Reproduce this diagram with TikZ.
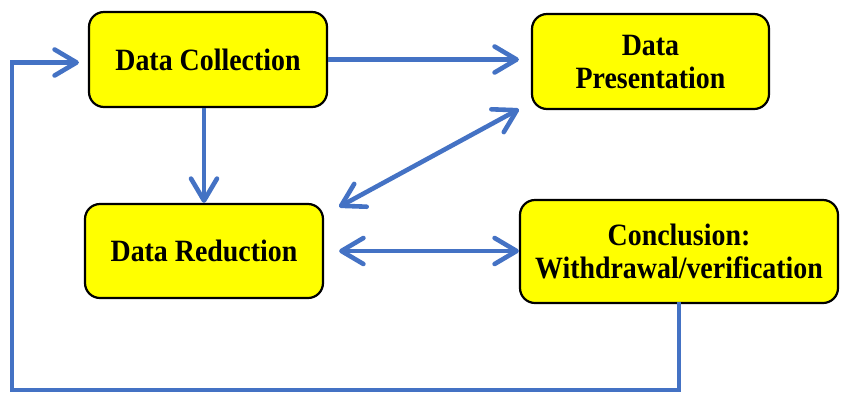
\documentclass[tikz,border=0pt]{standalone}
\usepackage{fontspec}
\setmainfont{Liberation Serif}[FakeStretch=0.9]
\usetikzlibrary{arrows.meta}
\definecolor{arrblue}{HTML}{4472C4}
\definecolor{boxyellow}{HTML}{FFFF00}
\begin{document}
\begin{tikzpicture}[x=1pt,y=-1pt,
  box/.style={draw=black, line width=2.2pt, fill=boxyellow, rounded corners=15pt,
    inner sep=0pt, align=center, font=\fontsize{31}{33}\selectfont\bfseries},
  arr/.style={draw=arrblue, line width=4.6pt, -{Straight Barb[length=22pt,width=26pt,round]}},
  darr/.style={draw=arrblue, line width=4.6pt, {Straight Barb[length=22pt,width=26pt,round]}-{Straight Barb[length=22pt,width=26pt,round]}}]
\useasboundingbox (0,0) rectangle (846,392);
\node[box, minimum width=238pt, minimum height=95pt] (coll) at (208,59.5) {Data Collection};
\node[box, minimum width=237pt, minimum height=95pt] (pres) at (650.5,61.5) {Data\\Presentation};
\node[box, minimum width=238pt, minimum height=94pt] (red) at (204,251) {Data Reduction};
\node[box, minimum width=318pt, minimum height=103pt] (conc) at (679,251.5) {Conclusion:\\Withdrawal/verification};
\coordinate (fb) at (12,390);
\draw[arr, shorten >=12pt] (coll.east) -- (coll.east -| pres.west);
\draw[arr] (red.north |- coll.south) -- (red.north);
\draw[darr] ([xshift=15pt,yshift=-4pt]red.north east) -- ([xshift=-12pt,yshift=1pt]pres.south west);
\draw[darr, shorten <=15pt] (red.east) -- (red.east -| conc.west);
\draw[arr, line cap=rect] (conc.south) |- (fb) |- ([xshift=-9pt,yshift=-3pt]coll.west);
\end{tikzpicture}
\end{document}
